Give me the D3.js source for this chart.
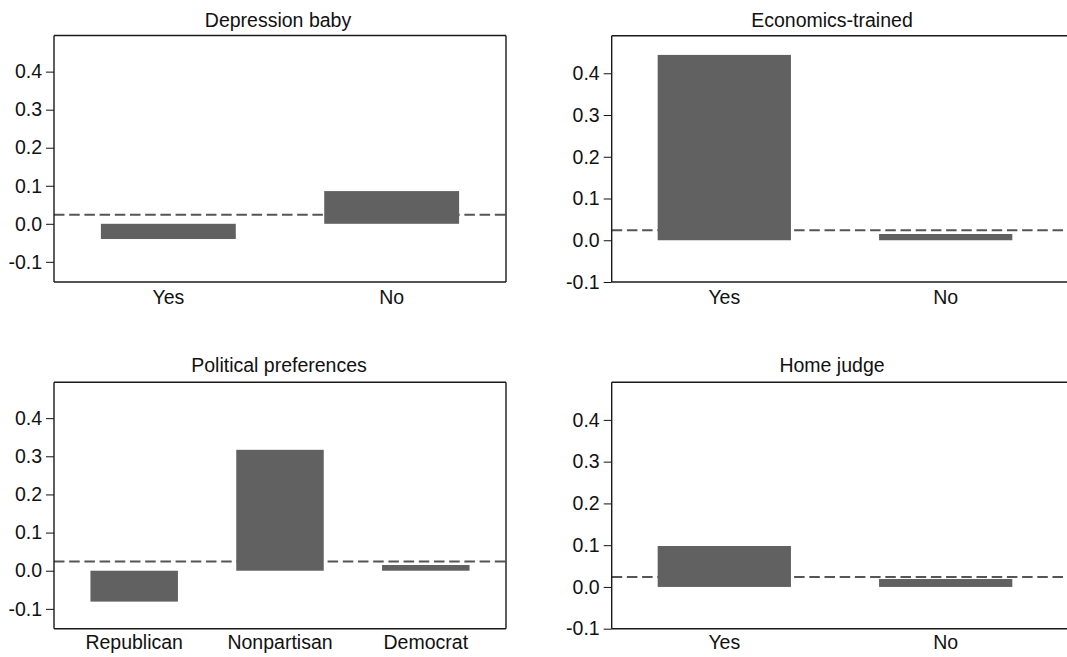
<!DOCTYPE html>
<html>
<head>
<meta charset="utf-8">
<script src="https://cdn.jsdelivr.net/npm/d3@7"></script>
<style>
  html, body { margin: 0; padding: 0; background: #fff; }
  svg { display: block; }
  text { font-family: "Liberation Sans", Arial, Helvetica, sans-serif; fill: #111; }
</style>
</head>
<body>
<svg id="chart" width="1067" height="657"></svg>
<script>
// ---- data ----
const panelTitles = ["Depression baby", "Economics-trained", "Political preferences", "Home judge"];
const depressionCats = ["Yes", "No"];
const depressionVals = [-0.040, 0.086];
const economicsCats = ["Yes", "No"];
const economicsVals = [0.444, 0.015];
const politicalCats = ["Republican", "Nonpartisan", "Democrat"];
const politicalVals = [-0.081, 0.317, 0.015];
const homeCats = ["Yes", "No"];
const homeVals = [0.098, 0.019];
const meanLine = 0.024;
const yTickValues = [-0.1, 0.0, 0.1, 0.2, 0.3, 0.4];
const yTickLabels = ["-0.1", "0.0", "0.1", "0.2", "0.3", "0.4"];

// ---- layout (positions/styles kept in code) ----
const panels = [
  { title: panelTitles[0], cats: depressionCats, vals: depressionVals,
    left: 54, bandRight: 506, frameRight: 506, top: 35.5, bottom: 282,
    yDomain: [-0.153, 0.495], pIn: 0.396, pOut: 0.21, titleX: 278, titleY: 26.5, labelY: 304, rightBorder: true },
  { title: panelTitles[1], cats: economicsCats, vals: economicsVals,
    left: 611.7, bandRight: 1056.6, bandLeft: 613.4, frameRight: 1090, top: 35.7, bottom: 282,
    yDomain: [-0.1, 0.49], pIn: 0.398, pOut: 0.2, titleX: 832, titleY: 26.5, labelY: 304, rightBorder: false },
  { title: panelTitles[2], cats: politicalCats, vals: politicalVals,
    left: 54, bandRight: 506, frameRight: 506, top: 382.3, bottom: 628.7,
    yDomain: [-0.152, 0.494], pIn: 0.4, pOut: 0.25, titleX: 279, titleY: 371.7, labelY: 648.5, rightBorder: true },
  { title: panelTitles[3], cats: homeCats, vals: homeVals,
    left: 611.7, bandRight: 1056.6, bandLeft: 613.4, frameRight: 1090, top: 382.3, bottom: 628.7,
    yDomain: [-0.1, 0.49], pIn: 0.398, pOut: 0.2, titleX: 832, titleY: 371.7, labelY: 648.5, rightBorder: false }
];

const barColor = "#616161";
const fontSize = "19.5px";
const svg = d3.select("#chart");

panels.forEach(p => {
  const g = svg.append("g");
  const y = d3.scaleLinear().domain(p.yDomain).range([p.bottom, p.top]);
  const x = d3.scaleBand()
    .domain(p.cats)
    .range([p.bandLeft !== undefined ? p.bandLeft : p.left, p.bandRight])
    .paddingInner(p.pIn)
    .paddingOuter(p.pOut);

  // dashed mean line (behind bars)
  g.append("line")
    .attr("x1", p.left).attr("x2", p.frameRight)
    .attr("y1", y(meanLine)).attr("y2", y(meanLine))
    .attr("stroke", "#555").attr("stroke-width", 2)
    .attr("stroke-dasharray", "10.5,4.7");

  // bars
  g.selectAll("rect.bar")
    .data(p.cats.map((c, i) => ({ c, v: p.vals[i] })))
    .join("rect")
    .attr("class", "bar")
    .attr("x", d => x(d.c))
    .attr("width", x.bandwidth())
    .attr("y", d => y(Math.max(0, d.v)))
    .attr("height", d => Math.abs(y(d.v) - y(0)))
    .attr("fill", barColor);

  // frame
  const fs = "#1a1a1a", fw = 1.4;
  g.append("line").attr("x1", p.left).attr("x2", p.frameRight).attr("y1", p.top).attr("y2", p.top)
    .attr("stroke", fs).attr("stroke-width", fw);
  g.append("line").attr("x1", p.left).attr("x2", p.frameRight).attr("y1", p.bottom).attr("y2", p.bottom)
    .attr("stroke", fs).attr("stroke-width", fw);
  if (p.rightBorder) {
    g.append("line").attr("x1", p.frameRight).attr("x2", p.frameRight).attr("y1", p.top).attr("y2", p.bottom)
      .attr("stroke", fs).attr("stroke-width", fw);
  }

  // y axis
  const yAxis = d3.axisLeft(y)
    .tickValues(yTickValues)
    .tickFormat((d, i) => yTickLabels[i])
    .tickSize(8)
    .tickPadding(4)
    .tickSizeOuter(0);
  const ya = g.append("g").attr("transform", `translate(${p.left},0)`).call(yAxis);
  ya.select(".domain").remove();
  ya.selectAll(".tick line").attr("stroke", "#111").attr("stroke-width", 1);
  ya.selectAll(".tick text").style("font-size", fontSize).attr("fill", "#111")
    .style("font-family", '"Liberation Sans", Arial, sans-serif');
  g.append("line").attr("x1", p.left).attr("x2", p.left).attr("y1", p.top).attr("y2", p.bottom)
    .attr("stroke", fs).attr("stroke-width", fw);

  // x category labels
  g.selectAll("text.xl")
    .data(p.cats)
    .join("text")
    .attr("class", "xl")
    .attr("x", d => x(d) + x.bandwidth() / 2)
    .attr("y", p.labelY)
    .attr("text-anchor", "middle")
    .style("font-size", fontSize)
    .text(d => d);

  // title
  g.append("text")
    .attr("x", p.titleX).attr("y", p.titleY)
    .attr("text-anchor", "middle")
    .style("font-size", fontSize)
    .text(p.title);
});
</script>
</body>
</html>
